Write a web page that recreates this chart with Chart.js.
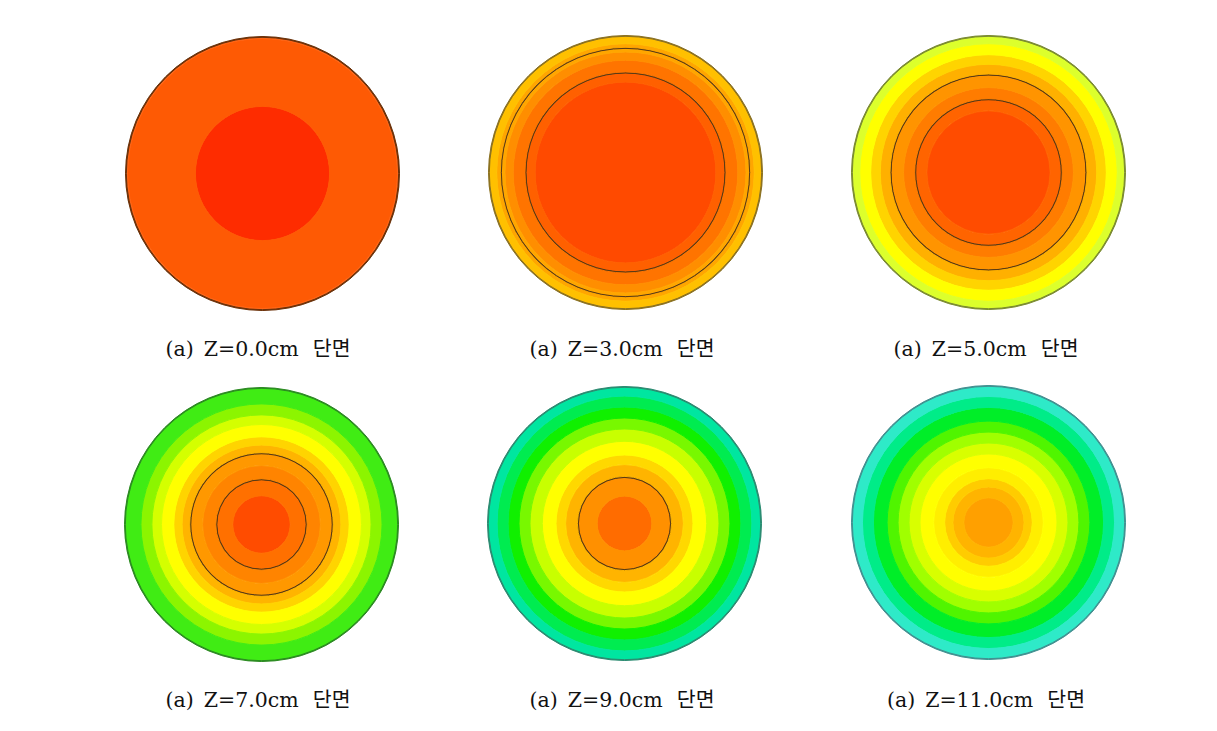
<!DOCTYPE html>
<html>
<head>
<meta charset="utf-8">
<script src="https://cdn.jsdelivr.net/npm/chart.js@4.4.1/dist/chart.umd.min.js"></script>
<style>
  body { margin: 0; background: #fff; width: 1217px; height: 731px; position: relative; overflow: hidden; }
  canvas { position: absolute; filter: blur(0.4px); }
  .cap { position: absolute; width: 300px; text-align: center; white-space: pre; word-spacing: 3.5px;
         font-family: "DejaVu Serif", "Noto Sans CJK KR", serif; font-size: 20.5px; line-height: 24px; color: #111; }
</style>
</head>
<body>
<script>
// section captions
const captions = ['(a) Z=0.0cm \u2009단면', '(a) Z=3.0cm \u2009단면', '(a) Z=5.0cm \u2009단면',
                  '(a) Z=7.0cm \u2009단면', '(a) Z=9.0cm \u2009단면', '(a) Z=11.0cm \u2009단면'];

// band outer radii (fraction of section radius) and band colours, outside -> inside
const z0Edges = [1.0, 0.985, 0.49];
const z0Colors = ['#FF6414', '#FE5A04', '#FE2C00'];
const z0Contours = [];

const z3Edges = [1.0, 0.94, 0.88, 0.82, 0.73, 0.66];
const z3Colors = ['#FFC000', '#FFA600', '#FF8E00', '#FF7400', '#FF6000', '#FF4A00'];
const z3Contours = [0.91, 0.73];

const z5Edges = [1.0, 0.94, 0.86, 0.79, 0.715, 0.62, 0.535, 0.45];
const z5Colors = ['#DCFF2C', '#FFFF00', '#FFD400', '#FFB000', '#FF9400', '#FF7C00', '#FF6400', '#FF4C00'];
const z5Contours = [0.715, 0.535];

const z7Edges = [1.0, 0.88, 0.8, 0.73, 0.64, 0.58, 0.52, 0.43, 0.33, 0.21];
const z7Colors = ['#40EC14', '#8CF500', '#D4FF00', '#FFFF00', '#FFD400', '#FFB400', '#FF9800', '#FF8400', '#FF7000', '#FF4C00'];
const z7Contours = [0.52, 0.33];

const z9Edges = [1.0, 0.93, 0.85, 0.77, 0.69, 0.6, 0.5, 0.43, 0.34, 0.2];
const z9Colors = ['#00E6A0', '#00EC50', '#10F000', '#78F800', '#C8FF00', '#FFFF00', '#FFD800', '#FFB400', '#FF9000', '#FF6C00'];
const z9Contours = [0.34];

const z11Edges = [1.0, 0.92, 0.84, 0.74, 0.66, 0.58, 0.5, 0.4, 0.32, 0.26, 0.18];
const z11Colors = ['#2EEAC8', '#00EC88', '#00EE28', '#50F500', '#A0FF00', '#D8FF00', '#FFFF00', '#FFEE00', '#FFCC00', '#FFB400', '#FFA000'];
const z11Contours = [];

const outlineColors = ['#6A3008', '#8A7020', '#7A8A30', '#2A8A20', '#2A8A70', '#409090'];

const panels = [
  { edges: z0Edges, colors: z0Colors, contours: z0Contours, cx: 262, cy: 173, r: 137, tx: 258 },
  { edges: z3Edges, colors: z3Colors, contours: z3Contours, cx: 625, cy: 172, r: 137, tx: 622 },
  { edges: z5Edges, colors: z5Colors, contours: z5Contours, cx: 988, cy: 172, r: 137, tx: 986 },
  { edges: z7Edges, colors: z7Colors, contours: z7Contours, cx: 261, cy: 524, r: 137, tx: 258 },
  { edges: z9Edges, colors: z9Colors, contours: z9Contours, cx: 624, cy: 523, r: 137, tx: 622 },
  { edges: z11Edges, colors: z11Colors, contours: z11Contours, cx: 988, cy: 522, r: 137, tx: 986 }
];

function buildRings(p, outline) {
  const ow = 0.006, h = 0.004;
  let pts = [1, 1 - ow, 0].concat(p.edges.slice(1));
  p.contours.forEach(c => { pts.push(c + h, c - h); });
  pts = [...new Set(pts.map(v => Math.round(v * 10000) / 10000))].sort((a, b) => b - a);
  const sets = [];
  for (let i = 0; i < pts.length - 1; i++) {
    const mid = (pts[i] + pts[i + 1]) / 2;
    let color;
    if (mid > 1 - ow) color = outline;
    else if (p.contours.some(c => Math.abs(mid - c) < h)) color = '#5A3A14';
    else {
      let k = 0;
      while (k + 1 < p.edges.length && p.edges[k + 1] >= mid) k++;
      color = p.colors[k];
    }
    // border in the same colour closes the anti-aliasing seams between rings
    sets.push({ data: [1], backgroundColor: color, borderColor: color, borderWidth: 1, weight: pts[i] - pts[i + 1] });
  }
  return sets;
}

panels.forEach((p, i) => {
  const cv = document.createElement('canvas');
  cv.width = 2 * p.r + 1;
  cv.height = 2 * p.r + 1;
  cv.style.left = (p.cx - p.r) + 'px';
  cv.style.top = (p.cy - p.r) + 'px';
  document.body.appendChild(cv);
  new Chart(cv.getContext('2d'), {
    type: 'doughnut',
    data: { labels: [''], datasets: buildRings(p, outlineColors[i]) },
    options: {
      responsive: false,
      animation: false,
      events: [],
      cutout: 0,
      layout: { padding: 0 },
      plugins: { legend: { display: false }, tooltip: { enabled: false } }
    }
  });

  const cap = document.createElement('div');
  cap.className = 'cap';
  cap.textContent = captions[i];
  cap.style.left = (p.tx - 150) + 'px';
  cap.style.top = (i < 3 ? 337 : 688) + 'px';
  document.body.appendChild(cap);
});
</script>
</body>
</html>
